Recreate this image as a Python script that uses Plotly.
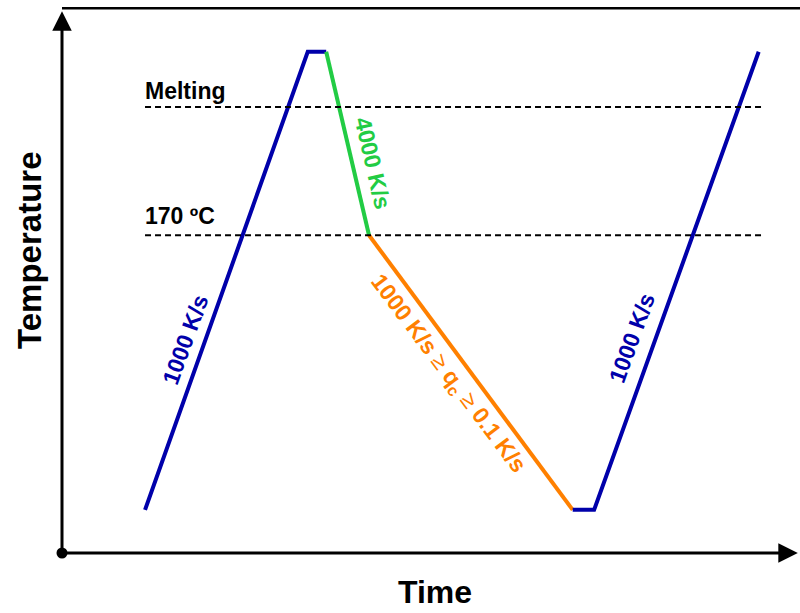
import plotly.graph_objects as go

# Data (arbitrary units: time 0-100, temperature 0-100)
heat1_t = [11.25, 33.3, 35.8]
heat1_T = [7.9, 91.8, 91.8]
fast_cool_t = [35.8, 41.6]
fast_cool_T = [91.8, 58.2]
slow_cool_t = [41.6, 69.2]
slow_cool_T = [58.2, 7.9]
heat2_t = [69.2, 72.1, 94.4]
heat2_T = [7.9, 7.9, 91.8]
ref_t = [11.25, 94.9]
melting_T = 81.7
t170_T = 58.2

BLUE = "#0000AA"
GREEN = "#22CC44"
ORANGE = "#FF8000"
FONT = "Liberation Sans, Arial, sans-serif"

fig = go.Figure()
for xs, ys, c in [(heat1_t, heat1_T, BLUE), (fast_cool_t, fast_cool_T, GREEN),
                  (slow_cool_t, slow_cool_T, ORANGE), (heat2_t, heat2_T, BLUE)]:
    fig.add_trace(go.Scatter(x=xs, y=ys, mode="lines", line=dict(color=c, width=4),
                             hoverinfo="skip", showlegend=False))
for T in [melting_T, t170_T]:
    fig.add_trace(go.Scatter(x=ref_t, y=[T, T], mode="lines",
                             line=dict(color="black", width=2, dash="6px,4px"),
                             hoverinfo="skip", showlegend=False))
# origin dot
fig.add_trace(go.Scatter(x=[0], y=[0], mode="markers", marker=dict(color="black", size=11),
                         cliponaxis=False, hoverinfo="skip", showlegend=False))

# frame top line
fig.add_shape(type="line", xref="x", yref="y", x0=0, x1=100, y0=99.8, y1=99.8,
              line=dict(color="black", width=3))

# axis arrows
for (x, y) in [(99.7, 0), (0, 99.2)]:
    fig.add_annotation(x=x, y=y, ax=0, ay=0, xref="x", yref="y", axref="x", ayref="y",
                       text="", showarrow=True, arrowhead=2, arrowsize=1.3,
                       arrowwidth=3, arrowcolor="black", standoff=0)

def txt(x, y, s, color, size, angle=0, xanchor="center", ref="x"):
    fig.add_annotation(x=x, y=y, xref="x" if ref == "x" else "paper",
                       yref="y" if ref == "x" else "paper", text=s, showarrow=False,
                       textangle=angle, xanchor=xanchor, yanchor="middle",
                       font=dict(family=FONT, size=size, color=color))

txt(11.0, 84.6, "<b>Melting</b>", "black", 23, xanchor="left")
txt(11.0, 61.7, "<b>170 ºC</b>", "black", 23, xanchor="left")
txt(16.7, 39.0, "<b>1000 K/s</b>", BLUE, 23, angle=-70)
txt(77.2, 39.4, "<b>1000 K/s</b>", BLUE, 23, angle=-70)
txt(42.1, 71.4, "<b>4000 K/s</b>", GREEN, 23, angle=77)
txt(52.2, 32.8, "<b>1000 K/s</b> ≥ <b>q<sub>c</sub></b> ≥ <b>0.1 K/s</b>", ORANGE, 23, angle=53)
txt(-0.0434, 0.555, "<b>Temperature</b>", "black", 33, angle=-90, ref="paper")
txt(0.505, -0.0714, "<b>Time</b>", "black", 32, ref="paper")

fig.update_xaxes(range=[0, 100], visible=False, fixedrange=True)
fig.update_yaxes(range=[0, 100], visible=False, fixedrange=True)
fig.update_layout(width=800, height=613, margin=dict(l=62, r=0, t=7, b=60),
                  plot_bgcolor="white", paper_bgcolor="white", showlegend=False)
fig.write_html("out.html", config={"displayModeBar": False},
               post_script="document.body.style.margin='0px';")
